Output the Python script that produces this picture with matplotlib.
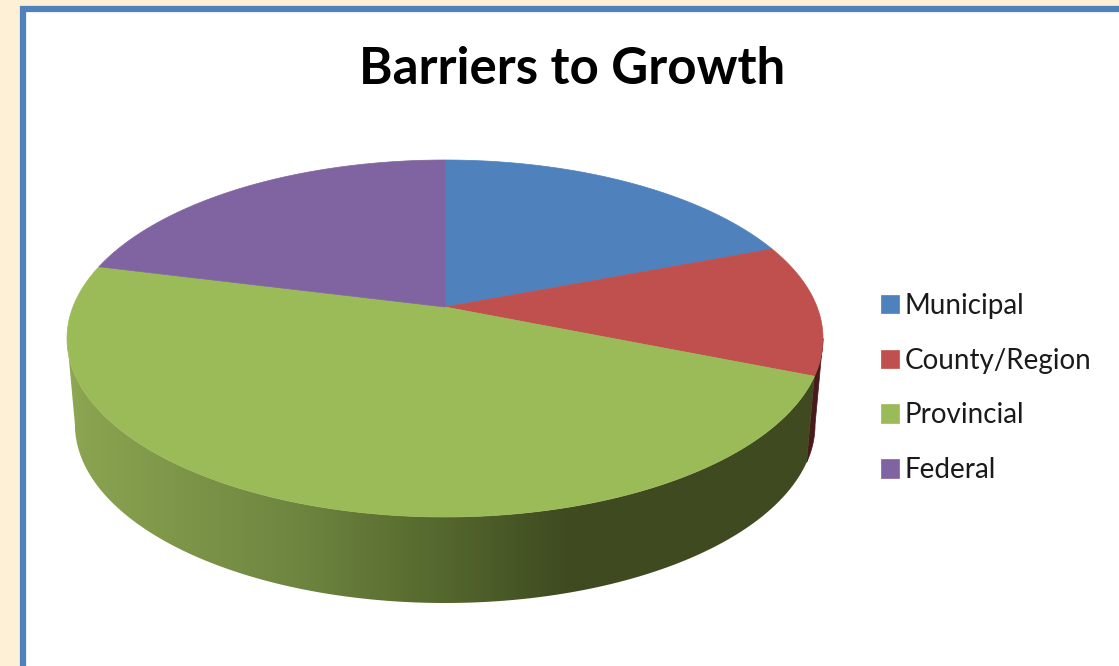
import numpy as np
import matplotlib
matplotlib.use("Agg")
import matplotlib.pyplot as plt
from matplotlib.colors import LinearSegmentedColormap
from matplotlib.patches import Polygon, Rectangle

# Chart data
categories = ['Municipal', 'County/Region', 'Provincial', 'Federal']
values = [19.2, 11.9, 47.8, 21.1]
colors = ['#4F81BD', '#C0504D', '#9BBB59', '#8064A2']
side_dark_red = '#4A1A1A'

# pie placement in pixels
apex_x, apex_y = 445, 307
top_up, top_down = 147, 210   # rim distance above and below the apex
half_width = 378
depth = 86
bottom_shrink = 0.979

# perspective of the tilted disc
a = (top_down - top_up) / (top_down + top_up)
b = top_up * (1 + a)
c = half_width * np.sqrt(1 - a * a)

# where the rim turns back, the wall outline stops there
right_edge = np.arccos(-a)
left_edge = 2 * np.pi - right_edge


def rim(theta, drop=0.0, shrink=1.0):
    # theta in radians, clockwise from the top of the pie
    u = np.sin(theta)
    v = np.cos(theta)
    x = apex_x + shrink * c * u / (1 + a * v)
    y = apex_y - b * v / (1 + a * v) + drop
    return np.column_stack([x, y])


def wall(t0, t1):
    th = np.linspace(t0, t1, 200)
    return np.vstack([rim(th), rim(th[::-1], depth, bottom_shrink)])


fig = plt.figure(figsize=(11.19, 6.66), dpi=100, facecolor='#FEF0D6')
ax = fig.add_axes([0, 0, 1, 1])
ax.axis('off')

# chart frame, runs off the right and bottom of the picture
ax.add_patch(Rectangle((23, 9), 1200, 800, facecolor='white', edgecolor='#4F81BD', linewidth=4.5))

angles = np.concatenate([[0], np.cumsum(values)]) / sum(values) * 2 * np.pi

# side walls
red_wall = Polygon(wall(max(angles[1], right_edge), angles[2]), facecolor=side_dark_red,
                   edgecolor=side_dark_red, linewidth=0.5)
ax.add_patch(red_wall)

green_wall = Polygon(wall(angles[2], min(angles[3], left_edge)), facecolor='none', edgecolor='none')
ax.add_patch(green_wall)
shade = LinearSegmentedColormap.from_list('shade', [
    (0.0, '#8FAA54'), (0.03, '#8AA350'), (0.31, '#6E8540'), (0.44, '#5C7032'),
    (0.53, '#50622B'), (0.66, '#3F4A20'), (1.0, '#3F4A20')])
img = ax.imshow(np.linspace(0, 1, 512).reshape(1, -1), cmap=shade, aspect='auto',
                extent=(60, 830, 620, 330), zorder=2)
img.set_clip_path(green_wall)

# top face
for i, name in enumerate(categories):
    th = np.linspace(angles[i], angles[i + 1], 200)
    pts = np.vstack([[apex_x, apex_y], rim(th)])
    ax.add_patch(Polygon(pts, facecolor=colors[i], edgecolor=colors[i], linewidth=0.5, zorder=3, label=name))

ax.set_xlim(0, 1119)
ax.set_ylim(666, 0)

ax.text(572, 69, 'Barriers to Growth', family='Lato', weight='bold', fontsize=36.7,
        ha='center', va='center', color='black')

ax.legend(loc='center left', bbox_to_anchor=(856 / 1119, 1 - 388 / 666), frameon=False,
          prop={'family': 'Lato', 'size': 20}, labelcolor='#1A1A1A',
          handlelength=0.65, handleheight=0.65, handletextpad=0.2, labelspacing=1.04)

fig.savefig('out.png', dpi=100)
